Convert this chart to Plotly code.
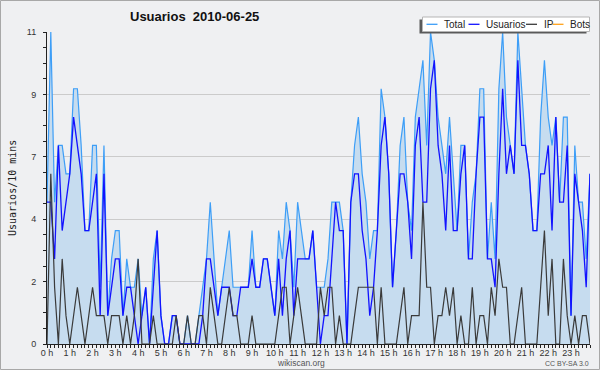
import plotly.graph_objects as go

# ---------------- data (10-minute intervals, 2010-06-25) ----------------
minutes = list(range(0, 1440, 10))

total = [5, 11, 5, 7, 7, 6, 6, 9, 9, 7, 4, 4, 7, 7, 2, 7, 1, 3, 4, 4, 1, 3, 2, 2,
         3, 1, 2, 0, 3, 4, 1, 0, 0, 1, 1, 0, 0, 1, 0, 0, 1, 2, 3, 5, 3, 1, 2, 3,
         4, 2, 2, 2, 2, 2, 4, 2, 2, 3, 3, 2, 1, 4, 3, 5, 4, 2, 5, 4, 3, 3, 4, 2,
         2, 2, 3, 5, 5, 5, 4, 0, 5, 7, 8, 6, 5, 3, 4, 4, 9, 8, 6, 2, 4, 7, 8, 5,
         4, 8, 9, 10, 7, 11, 10, 8, 7, 6, 8, 6, 4, 7, 7, 3, 5, 6, 9, 9, 3, 5, 3, 9,
         11, 8, 7, 6, 11, 9, 7, 6, 4, 4, 8, 10, 8, 7, 8, 5, 8, 8, 1, 7, 5, 5, 3, 6]

usuarios = [5, 5, 3, 7, 4, 5, 6, 8, 7, 6, 4, 4, 5, 6, 1, 6, 1, 2, 3, 3, 1, 2, 2, 1,
            0, 1, 2, 0, 2, 4, 1, 0, 0, 1, 1, 0, 0, 0, 0, 0, 0, 1, 3, 3, 2, 1, 2, 2,
            2, 1, 1, 2, 2, 2, 3, 2, 2, 3, 3, 2, 1, 3, 1, 3, 4, 1, 3, 3, 3, 3, 4, 2,
            0, 1, 1, 3, 5, 4, 4, 0, 5, 6, 6, 4, 3, 1, 2, 4, 7, 8, 6, 2, 4, 6, 6, 5,
            3, 7, 8, 5, 5, 9, 10, 7, 6, 4, 7, 4, 4, 6, 7, 3, 3, 6, 8, 8, 3, 3, 2, 6,
            9, 6, 7, 6, 10, 7, 7, 6, 4, 4, 6, 6, 7, 4, 8, 5, 5, 7, 1, 6, 5, 4, 2, 6]

ip = [0, 6, 2, 0, 3, 1, 0, 1, 2, 1, 0, 1, 2, 1, 1, 1, 0, 1, 1, 1, 0, 1, 0, 1,
      3, 0, 0, 0, 1, 0, 0, 0, 0, 0, 1, 0, 0, 1, 0, 0, 1, 1, 0, 2, 1, 0, 0, 1,
      2, 1, 1, 0, 0, 0, 1, 0, 0, 0, 0, 0, 0, 1, 2, 2, 0, 1, 2, 1, 0, 0, 0, 0,
      2, 1, 2, 2, 0, 1, 0, 0, 0, 1, 2, 2, 2, 2, 2, 0, 2, 0, 0, 0, 0, 1, 2, 0,
      1, 1, 1, 5, 2, 2, 0, 1, 1, 2, 1, 2, 0, 1, 0, 0, 2, 0, 1, 1, 0, 2, 1, 3,
      2, 2, 0, 0, 1, 2, 0, 0, 0, 0, 2, 4, 1, 3, 0, 0, 3, 1, 0, 1, 0, 1, 1, 0]

bots = []          # no bot activity that day
bots_minutes = []

hour_ticks = [0, 60, 120, 180, 240, 300, 360, 420, 480, 540, 600, 660,
              720, 780, 840, 900, 960, 1020, 1080, 1140, 1200, 1260, 1320, 1380]
hour_labels = ["0 h", "1 h", "2 h", "3 h", "4 h", "5 h", "6 h", "7 h",
               "8 h", "9 h", "10 h", "11 h", "12 h", "13 h", "14 h", "15 h",
               "16 h", "17 h", "18 h", "19 h", "20 h", "21 h", "22 h", "23 h"]
y_ticks = [0, 2.2, 4.4, 6.6, 8.8, 11]
y_labels = ["0", "2", "4", "7", "9", "11"]

series_names = ["Total", "Usuarios", "IP", "Bots"]
series_colors = ["#3d9ef7", "#1212ff", "#3a3a3a", "#ffa21a"]

# ---------------- layout geometry ----------------
W, H = 600, 370
ML, MR, MT, MB = 47, 10, 32, 26
PW = W - ML - MR
PH = H - MT - MB
BG = "#eff0f2"


def fx(x):
    return (x - ML) / PW


def fy(y):
    return (H - MB - y) / PH


fig = go.Figure()
fig.add_trace(go.Scatter(x=minutes, y=total, mode="lines", name=series_names[0],
                         line=dict(color=series_colors[0], width=1.2),
                         fill="tozeroy", fillcolor="#c6dcef", hoverinfo="skip"))
fig.add_trace(go.Scatter(x=minutes, y=usuarios, mode="lines", name=series_names[1],
                         line=dict(color=series_colors[1], width=1.3), hoverinfo="skip"))
fig.add_trace(go.Scatter(x=minutes, y=ip, mode="lines", name=series_names[2],
                         line=dict(color=series_colors[2], width=1.2), hoverinfo="skip"))
fig.add_trace(go.Scatter(x=bots_minutes, y=bots, mode="lines", name=series_names[3],
                         line=dict(color=series_colors[3], width=1.2), hoverinfo="skip"))

tickfont = dict(family="Liberation Sans, Arial, sans-serif", size=9, color="#333333")

fig.update_layout(
    width=W, height=H,
    margin=dict(l=ML, r=MR, t=MT, b=MB, pad=0),
    paper_bgcolor=BG, plot_bgcolor=BG,
    showlegend=False,
    hovermode=False,
    title=dict(text="<b>Usuarios\u00a0 2010-06-25</b>", x=130 / W, xanchor="left",
               xref="container", y=1 - 16 / H, yanchor="middle", yref="container",
               font=dict(family="Liberation Sans, Arial, sans-serif", size=13,
                         color="#111111")),
    xaxis=dict(range=[0, 1430], tickmode="array", tickvals=hour_ticks,
               ticktext=hour_labels, ticks="outside", ticklen=3, tickwidth=1,
               tickcolor="#222222", showline=True, linecolor="#222222", linewidth=1,
               showgrid=False, zeroline=False, tickfont=tickfont,
               ticklabelstandoff=-3,
               minor=dict(tickmode="linear", tick0=0, dtick=10, ticks="outside",
                          ticklen=3, tickwidth=1, tickcolor="#222222", showgrid=False)),
    yaxis=dict(range=[0, 11], tickmode="array", tickvals=y_ticks, ticktext=y_labels,
               ticks="outside", ticklen=3, tickwidth=1, tickcolor="#222222",
               showline=True, linecolor="#222222", linewidth=1,
               showgrid=True, gridcolor="#cbcbcb", gridwidth=1, zeroline=False,
               tickfont=tickfont, ticklabelstandoff=5,
               minor=dict(tickmode="linear", tick0=0, dtick=0.55, ticks="outside",
                          ticklen=3, tickwidth=1, tickcolor="#222222", showgrid=False)),
)

annotations = [
    dict(text="Usuarios/10 mins", x=fx(12), y=fy(188), xref="paper", yref="paper",
         textangle=-90, showarrow=False, xanchor="center", yanchor="middle",
         font=dict(family="DejaVu Sans Mono, monospace", size=10, color="#222222")),
    dict(text="wikiscan.org", x=fx(301), y=fy(363), xref="paper", yref="paper",
         showarrow=False, xanchor="center", yanchor="middle",
         font=dict(family="Liberation Sans, Arial, sans-serif", size=8.5, color="#555555")),
    dict(text="CC BY-SA 3.0", x=fx(591), y=fy(363), xref="paper", yref="paper",
         showarrow=False, xanchor="right", yanchor="middle",
         font=dict(family="Liberation Sans, Arial, sans-serif", size=7, color="#555555")),
]

shapes = [
    # outer border
    dict(type="rect", xref="paper", yref="paper", x0=fx(0.5), x1=fx(599.5),
         y0=fy(0.5), y1=fy(369.5), line=dict(color="#a8a8a8", width=1),
         fillcolor="rgba(0,0,0,0)", layer="above"),
    # legend shadow
    dict(type="rect", xref="paper", yref="paper", x0=fx(419.5), x1=fx(586.5),
         y0=fy(19.5), y1=fy(33.5), line=dict(width=0), fillcolor="#5a5a5a",
         layer="above"),
    # legend box
    dict(type="rect", xref="paper", yref="paper", x0=fx(422.5), x1=fx(589.5),
         y0=fy(17), y1=fy(31.5), line=dict(color="#b5b5b5", width=1),
         fillcolor="#ffffff", layer="above"),
]

legend_line_x = [426.5, 468.5, 526, 552.5]
legend_text_x = [442, 484, 542, 567.5]
for name, col, lx, tx in zip(series_names, series_colors, legend_line_x, legend_text_x):
    shapes.append(dict(type="line", xref="paper", yref="paper", x0=fx(lx), x1=fx(lx + 11),
                       y0=fy(24.3), y1=fy(24.3), line=dict(color=col, width=1.3),
                       layer="above"))
    annotations.append(dict(text=name, x=fx(tx), y=fy(24.5), xref="paper", yref="paper",
                            showarrow=False, xanchor="left", yanchor="middle",
                            font=dict(family="Liberation Sans, Arial, sans-serif",
                                      size=10, color="#222222")))

fig.update_layout(annotations=annotations, shapes=shapes)

fig.write_html("out.html",
               config={"displayModeBar": False, "staticPlot": True},
               post_script="document.body.style.margin='0';"
                           "document.body.style.overflow='hidden';")
